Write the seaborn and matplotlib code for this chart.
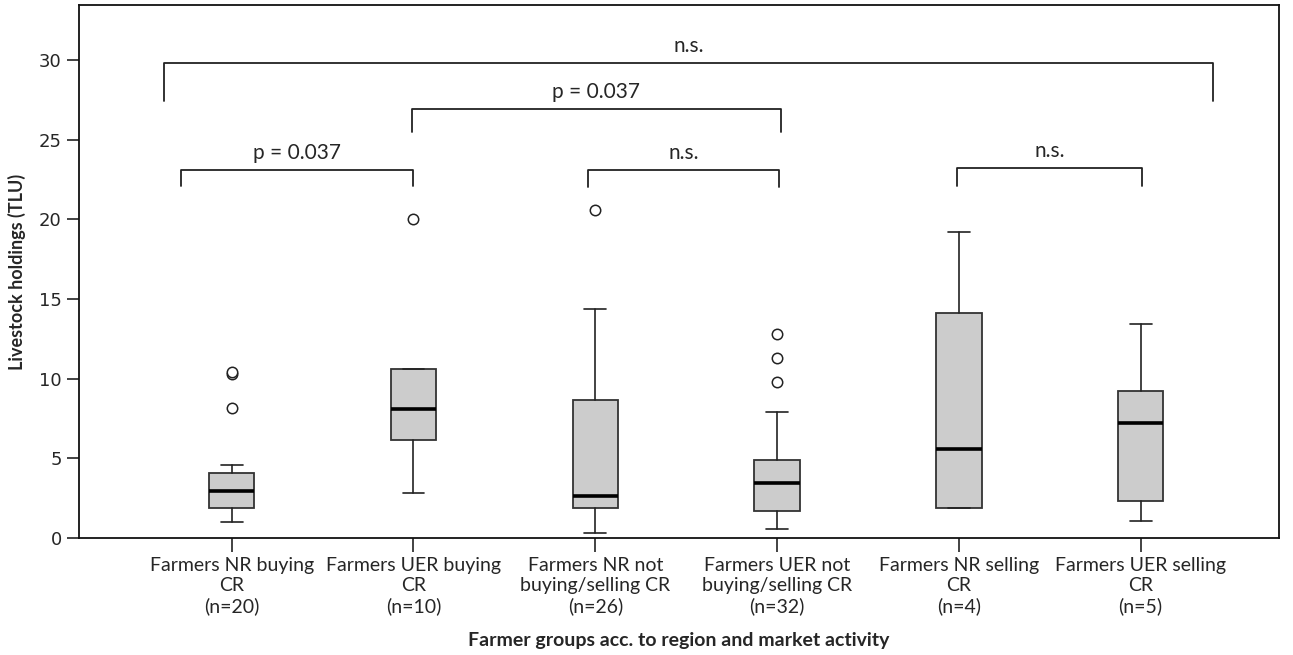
import numpy as np
import seaborn as sns
from matplotlib import pyplot as plt

# summary statistics (TLU)
groups = ["Farmers NR buying\nCR\n(n=20)",
          "Farmers UER buying\nCR\n(n=10)",
          "Farmers NR not\nbuying/selling CR\n(n=26)",
          "Farmers UER not\nbuying/selling CR\n(n=32)",
          "Farmers NR selling\nCR\n(n=4)",
          "Farmers UER selling\nCR\n(n=5)"]
whisker_low = [1.02, 2.82, 0.29, 0.59, 1.90, 1.05]
q1 = [1.86, 6.17, 1.86, 1.69, 1.90, 2.30]
median = [2.93, 8.12, 2.66, 3.43, 5.57, 7.20]
q3 = [4.10, 10.63, 8.66, 4.90, 14.14, 9.21]
whisker_high = [4.60, 10.63, 14.35, 7.93, 19.19, 13.41]
outliers = [[8.14, 10.30, 10.44], [20.03], [20.57], [9.81, 11.30, 12.79], [], []]

# significance brackets: left, right, bar height, leg bottom, label
bracket_left = [-0.37, 0.99, -0.28, 1.96, 3.99]
bracket_right = [5.40, 3.02, 1.00, 3.01, 5.01]
bracket_top = [29.8, 26.9, 23.1, 23.1, 23.2]
bracket_foot = [27.4, 25.5, 22.1, 22.0, 22.1]
bracket_text = ["n.s.", "p = 0.037", "p = 0.037", "n.s.", "n.s."]

sns.set_theme(style="ticks")
plt.rcParams['font.family'] = ['DejaVu Sans']
label_font = ['Lato', 'DejaVu Sans']

fig = plt.figure(figsize=(12.93, 6.55), dpi=100)
ax = fig.add_axes([0.0611, 0.1786, 0.9279, 0.8138])

stats = []
for i in range(len(groups)):
    stats.append({
        'whislo': whisker_low[i], 'q1': q1[i], 'med': median[i],
        'q3': q3[i], 'whishi': whisker_high[i], 'fliers': outliers[i],
    })

positions = np.arange(len(groups))
ax.bxp(stats, positions=positions, widths=0.25, patch_artist=True,
       showcaps=True,
       boxprops=dict(facecolor='#cccccc', edgecolor='#333333', linewidth=1.3),
       medianprops=dict(color='black', linewidth=2.6),
       whiskerprops=dict(color='#222222', linewidth=1.2),
       capprops=dict(color='#222222', linewidth=1.2),
       capwidths=0.12,
       flierprops=dict(marker='o', markerfacecolor='white',
                       markeredgecolor='#222222', markersize=7.5,
                       markeredgewidth=1.1))

for x1, x2, yt, yf, lab in zip(bracket_left, bracket_right, bracket_top,
                                 bracket_foot, bracket_text):
    ax.plot([x1, x1, x2, x2], [yf, yt, yt, yf], color='#222222', lw=1.3,
            solid_joinstyle='round', clip_on=False)
    ax.text((x1 + x2) / 2, yt + 0.45, lab, ha='center', va='bottom',
            fontsize=15, family=label_font)

ax.set_xlim(-0.84, 5.76)
ax.set_ylim(0, 33.45)
ax.set_yticks([0, 5, 10, 15, 20, 25, 30])
ax.set_xticks(positions)
ax.set_xticklabels(groups, fontsize=14, family=label_font, linespacing=1.2)
ax.tick_params(axis='y', labelsize=13, length=9, width=1.2, color='#222222')
ax.tick_params(axis='x', length=10, width=1.2, pad=4, color='#222222')

for side in ['top', 'right', 'left', 'bottom']:
    ax.spines[side].set_visible(True)
    ax.spines[side].set_color('#111111')
    ax.spines[side].set_linewidth(1.3)

ax.set_ylabel("Livestock holdings (TLU)", fontsize=13, fontweight='bold',
              family=label_font)
ax.yaxis.set_label_coords(-0.044, 0.5)
ax.set_xlabel("Farmer groups acc. to region and market activity", fontsize=14,
              fontweight='bold', family=label_font, labelpad=12)

fig.savefig("out.png", dpi=100)
